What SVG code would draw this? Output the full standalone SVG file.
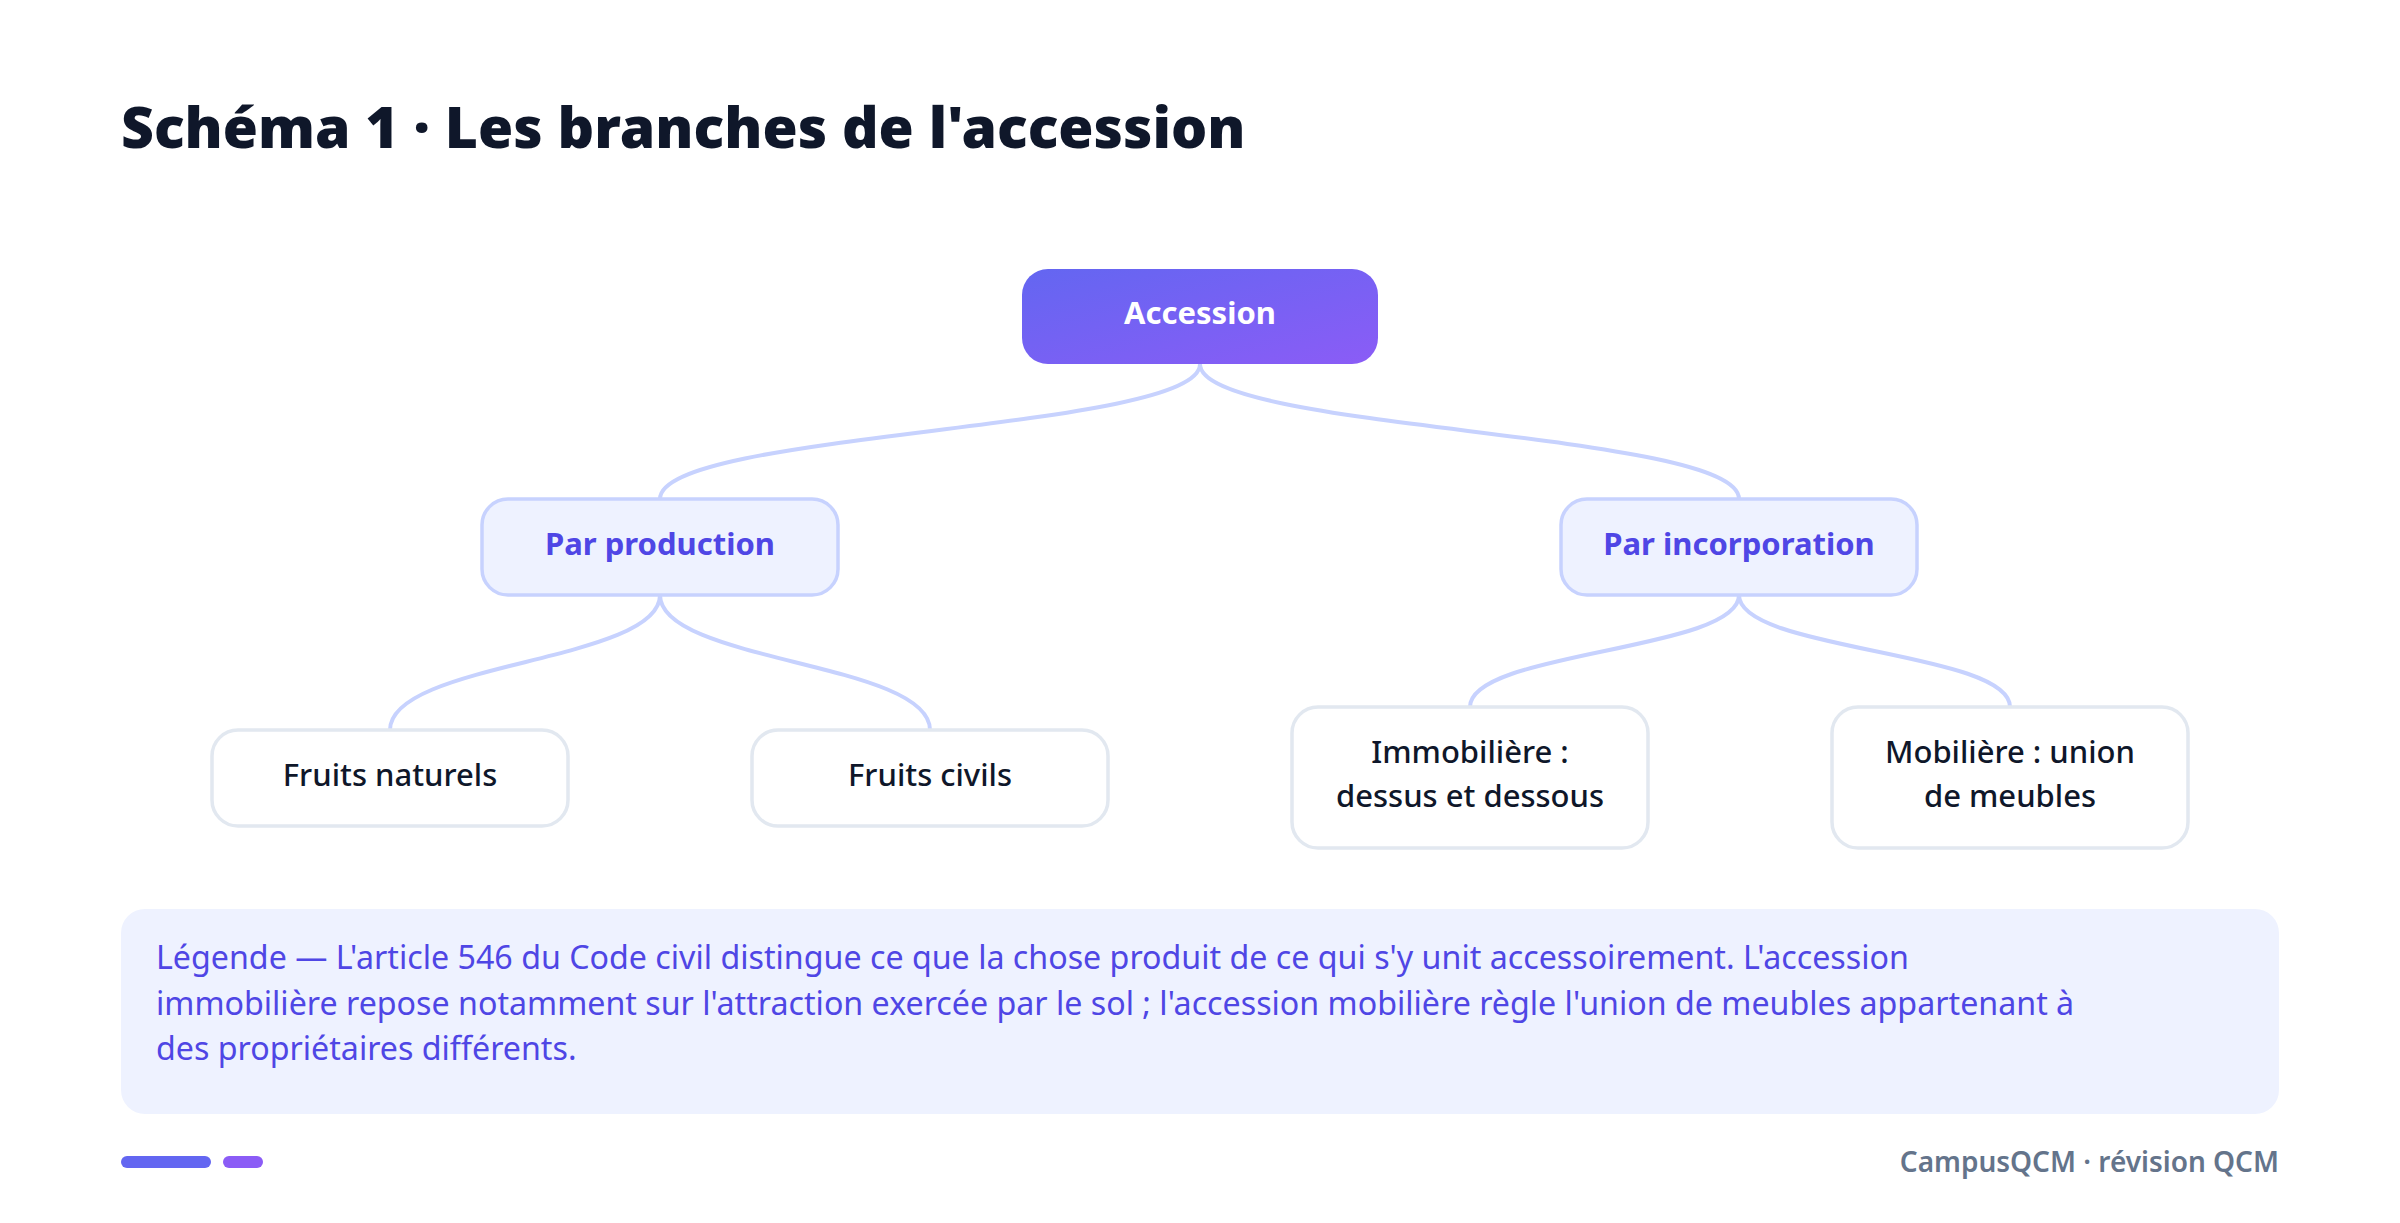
<svg xmlns="http://www.w3.org/2000/svg" width="2400" height="1223" viewBox="0 0 2400 1223">
<defs>
<linearGradient id="rootGrad" x1="0" y1="0" x2="1" y2="1">
<stop offset="0" stop-color="#6366f1"/>
<stop offset="1" stop-color="#8b5cf6"/>
</linearGradient>
<style>
.title{font-family:"Noto Sans","Open Sans",sans-serif;font-weight:900;font-size:57px;fill:#0f172a}
.root-box{fill:url(#rootGrad)}
.root-txt{font-family:"Noto Sans","Open Sans",sans-serif;font-weight:700;font-size:31px;fill:#ffffff;text-anchor:middle}
.mid-box{fill:#eef2ff;stroke:#c7d2fe;stroke-width:3.5}
.mid-txt{font-family:"Noto Sans","Open Sans",sans-serif;font-weight:700;font-size:31px;fill:#4f46e5;text-anchor:middle}
.leaf-box{fill:#ffffff;stroke:#e2e8f0;stroke-width:3.5}
.leaf-txt{font-family:"Noto Sans","Open Sans",sans-serif;font-weight:500;font-size:31px;fill:#0f172a;text-anchor:middle}
.edge{fill:none;stroke:#c7d2fe;stroke-width:4}
.legend-box{fill:#eef2ff}
.legend-txt{font-family:"Noto Sans","Open Sans",sans-serif;font-size:32.2px;fill:#4f46e5}
.footer-txt{font-family:"Noto Sans","Open Sans",sans-serif;font-weight:600;font-size:28px;fill:#64748b;text-anchor:end}
</style>
</defs>
<rect width="2400" height="1223" fill="#ffffff"/>
<text class="title" x="121" y="148">Schéma 1 · Les branches de l'accession</text>

<g id="connectors">
<path class="edge" d="M1200,364 C1200,431 660,431 660,499"/>
<path class="edge" d="M1200,364 C1200,431 1739,431 1739,499"/>
<path class="edge" d="M660,595 C660,662 390,662 390,730"/>
<path class="edge" d="M660,595 C660,662 930,662 930,730"/>
<path class="edge" d="M1739,595 C1739,651 1470,651 1470,707"/>
<path class="edge" d="M1739,595 C1739,651 2010,651 2010,707"/>
</g>

<g id="node-accession">
<rect class="root-box" x="1022" y="269" width="356" height="95" rx="26"/>
<text class="root-txt" x="1200" y="324">Accession</text>
</g>
<g id="node-production">
<rect class="mid-box" x="482" y="499" width="356" height="96" rx="26"/>
<text class="mid-txt" x="660" y="555">Par production</text>
</g>
<g id="node-incorporation">
<rect class="mid-box" x="1561" y="499" width="356" height="96" rx="26"/>
<text class="mid-txt" x="1739" y="555">Par incorporation</text>
</g>
<g id="node-fruits-naturels">
<rect class="leaf-box" x="212" y="730" width="356" height="96" rx="26"/>
<text class="leaf-txt" x="390" y="786">Fruits naturels</text>
</g>
<g id="node-fruits-civils">
<rect class="leaf-box" x="752" y="730" width="356" height="96" rx="26"/>
<text class="leaf-txt" x="930" y="786">Fruits civils</text>
</g>
<g id="node-immobiliere">
<rect class="leaf-box" x="1292" y="707" width="356" height="141" rx="26"/>
<text class="leaf-txt" x="1470" y="763">Immobilière :</text>
<text class="leaf-txt" x="1470" y="807">dessus et dessous</text>
</g>
<g id="node-mobiliere">
<rect class="leaf-box" x="1832" y="707" width="356" height="141" rx="26"/>
<text class="leaf-txt" x="2010" y="763">Mobilière : union</text>
<text class="leaf-txt" x="2010" y="807">de meubles</text>
</g>

<g id="legend">
<rect class="legend-box" x="121" y="909" width="2158" height="205" rx="24"/>
<text class="legend-txt" x="156" y="969">Légende — L'article 546 du Code civil distingue ce que la chose produit de ce qui s'y unit accessoirement. L'accession</text>
<text class="legend-txt" x="156" y="1015">immobilière repose notamment sur l'attraction exercée par le sol ; l'accession mobilière règle l'union de meubles appartenant à</text>
<text class="legend-txt" x="156" y="1060">des propriétaires différents.</text>
</g>

<g id="footer">
<rect x="121" y="1156" width="90" height="12" rx="6" fill="#6366f1"/>
<rect x="223" y="1156" width="40" height="12" rx="6" fill="#8b5cf6"/>
<text class="footer-txt" x="2279" y="1172">CampusQCM · révision QCM</text>
</g>
</svg>
